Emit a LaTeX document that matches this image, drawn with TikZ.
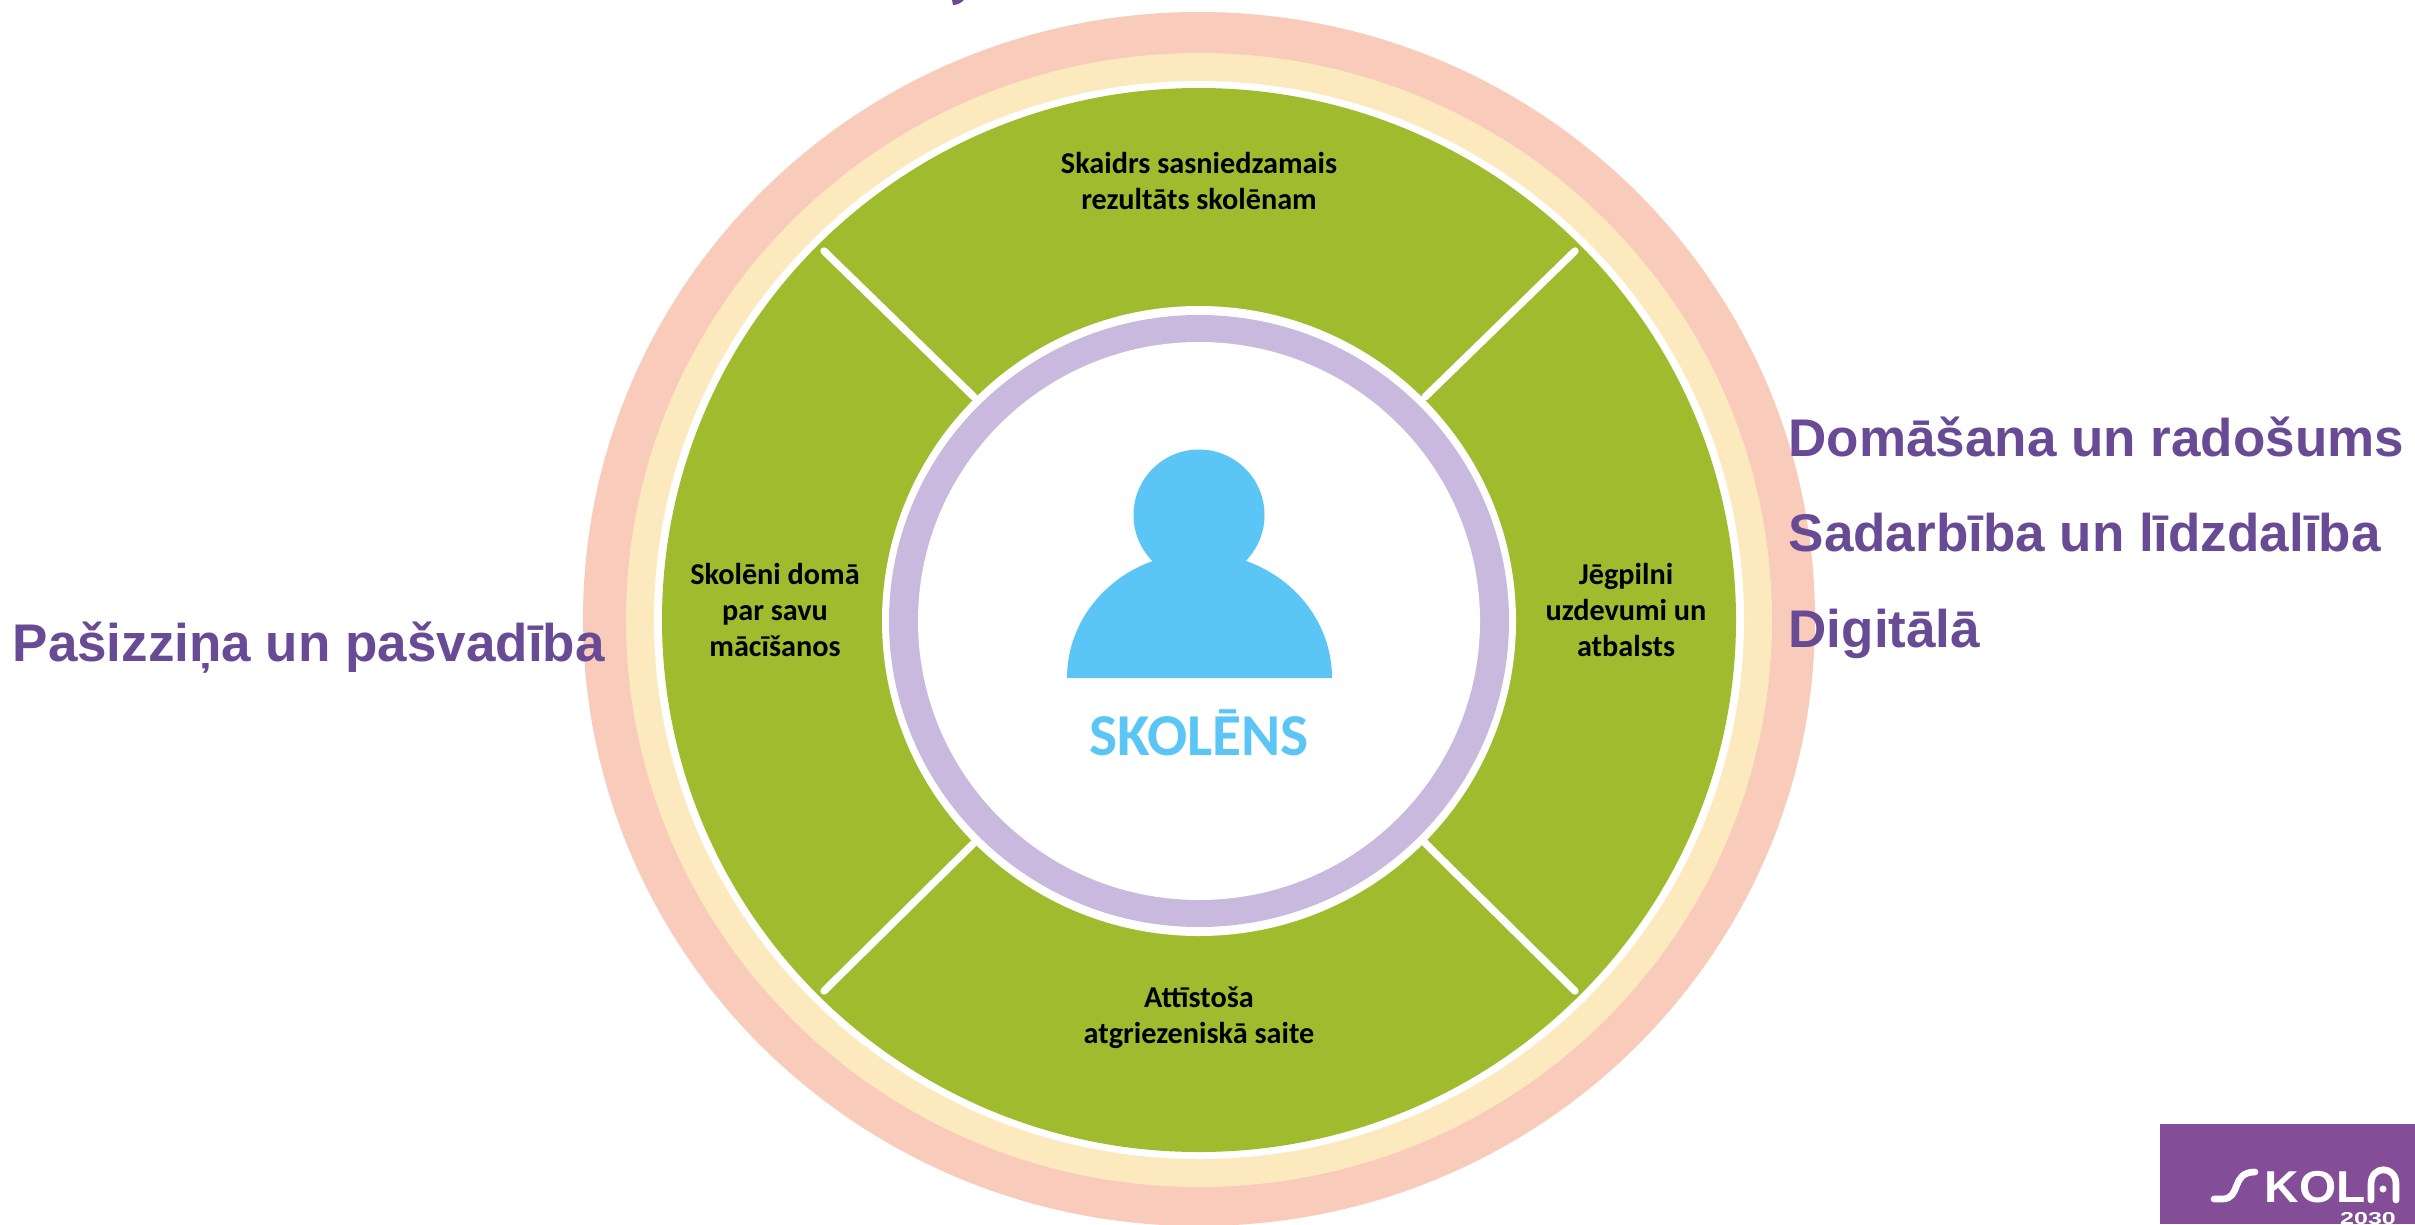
\documentclass[tikz,border=0pt]{standalone}
\usepackage{fontspec}
\setmainfont{Liberation Sans}
\newfontfamily\calibrifont{Carlito}
\definecolor{peach}{HTML}{F8CBBB}
\definecolor{cream}{HTML}{FDE9BE}
\definecolor{leaf}{HTML}{A0BB2D}
\definecolor{lilac}{HTML}{C9B9DE}
\definecolor{sky}{HTML}{5BC6F5}
\definecolor{ink}{HTML}{694A94}
\definecolor{badge}{HTML}{834E97}
\tikzset{
  goal/.style={font=\bfseries\fontsize{15.07pt}{15.07pt}\selectfont,text=ink,anchor=base west,inner sep=0pt},
  sector/.style={font=\calibrifont\bfseries\fontsize{8.6pt}{10.3pt}\selectfont,text=black,align=center,inner sep=0pt},
  spoke/.style={white,line width=2.1pt,line cap=round},
  logoline/.style={white,line width=1.9pt,line cap=round,line join=round}
}

\begin{document}
\begin{tikzpicture}[x=0.01cm,y=-0.01cm]
        \clip (0,0) rectangle (2415,1224);

        % rings
        \fill[peach] (1199,619) ellipse[x radius=616,y radius=607];
        \fill[cream] (1199,620) ellipse[x radius=573,y radius=567];
        \fill[white] (1199,620) ellipse[x radius=545,y radius=539];
        \fill[leaf] (1199,620) ellipse[x radius=537,y radius=532];
        \fill[white] (1199,621) ellipse[x radius=317,y radius=315];
        \fill[lilac] (1199,621) ellipse[x radius=310,y radius=306];
        \fill[white] (1199,621) ellipse[x radius=281,y radius=279];

        \path
        (824,251) coordinate(ula)
        (974,397) coordinate(ulb)
        (1575,251) coordinate(ura)
        (1425,397) coordinate(urb)
        (824,991) coordinate(lla)
        (976,841) coordinate(llb)
        (1575,991) coordinate(lra)
        (1423,841) coordinate(lrb)
        ;
        \draw[spoke] (ula) -- (ulb);
        \draw[spoke] (ura) -- (urb);
        \draw[spoke] (lla) -- (llb);
        \draw[spoke] (lra) -- (lrb);

        \path
        (1199,181) node[sector](top) {Skaidrs sasniedzamais\\rezultāts skolēnam}
        (775,610) node[sector](left) {Skolēni domā\\par savu\\mācīšanos}
        (1626,610) node[sector](right) {Jēgpilni\\uzdevumi un\\atbalsts}
        (1199,1018) node[sector](bottom) {Attīstoša\\atgriezeniskā saite}
        ;

        % person
        \fill[sky] (1199,515) circle[radius=65.5];
        \fill[sky] (1067,678) arc[start angle=180,end angle=360,x radius=132.5,y radius=125] -- cycle;
        \node[font=\calibrifont\bfseries\fontsize{16.9pt}{16.9pt}\selectfont,text=sky] (pupil) at (1199,733) {SKOLĒNS};

        \path
        (1788,456) node[goal](think) {Domāšana un radošums}
        (1788,551) node[goal](team) {Sadarbība un līdzdalība}
        (1788,647) node[goal](digi) {Digitālā}
        (12,661) node[goal](self) {Pašizziņa un pašvadība}
        ;

        % cut off descender at the top
        \fill[ink] (952,0) -- (964,0) .. controls (961,3) and (957,5) .. (953,5) -- cycle;

        % logo
        \fill[badge] (2160,1124) rectangle (2415,1224);
        \draw[logoline] (2214,1199) -- (2222,1199) .. controls (2242,1199) and (2230,1172) .. (2255,1172);
        \node[font=\bfseries\fontsize{12.7pt}{12.7pt}\selectfont,text=white,inner sep=0pt,anchor=base,xscale=1.07] (kol) at (2315,1202) {KOL};
        \draw[logoline] (2371,1200) -- (2371,1184) .. controls (2371,1165) and (2396,1165) .. (2396,1184) -- (2396,1200);
        \fill[white] (2383,1189) circle[radius=3.5];
        \node[font=\bfseries\fontsize{4.9pt}{4.9pt}\selectfont,text=white,inner sep=0pt,anchor=base,xscale=1.45] (year) at (2368,1224) {2030};
\end{tikzpicture}
\end{document}
